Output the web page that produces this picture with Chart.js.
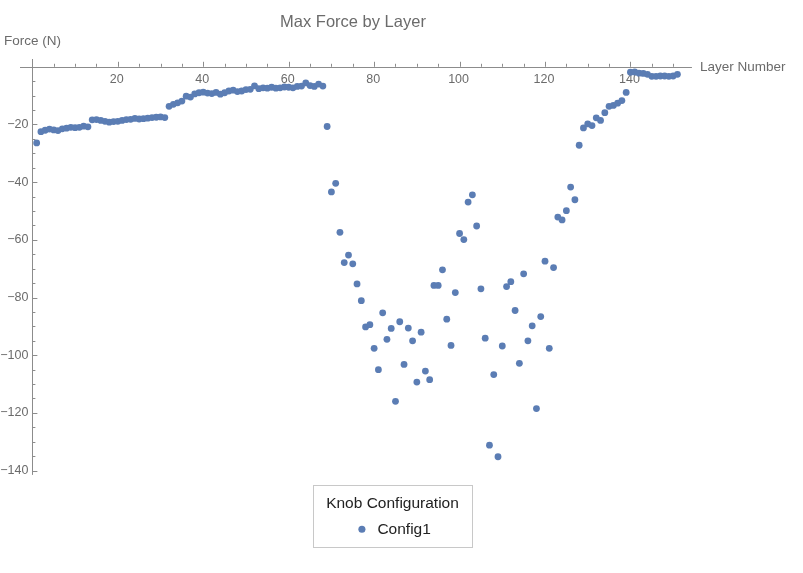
<!DOCTYPE html>
<html>
<head>
<meta charset="utf-8">
<title>Max Force by Layer</title>
<script src="https://cdn.jsdelivr.net/npm/chart.js@4.4.1/dist/chart.umd.min.js"></script>
<style>
  html, body { margin: 0; padding: 0; background: #fff; }
  #wrap { width: 803px; height: 573px; }
</style>
</head>
<body>
<div id="wrap"><canvas id="chart"></canvas></div>
<script>
// max force per layer (N)
const forces = [
    -26.4, -22.5, -22.0, -21.6, -21.9, -22.1, -21.5, -21.3, -21.0, -21.1,
    -21.0, -20.6, -20.8, -18.4, -18.3, -18.6, -18.9, -19.2, -19.0, -18.9,
    -18.6, -18.3, -18.2, -17.9, -18.1, -18.0, -17.8, -17.6, -17.5, -17.4,
    -17.6, -13.7, -13.0, -12.5, -11.9, -10.2, -10.5, -9.4, -9.0, -8.8,
    -9.1, -9.3, -8.9, -9.5, -9.0, -8.4, -8.1, -8.6, -8.4, -7.9,
    -7.8, -6.6, -7.6, -7.3, -7.4, -7.1, -7.4, -7.3, -7.0, -7.1,
    -7.3, -6.8, -6.7, -5.6, -6.5, -6.8, -6.0, -6.7, -20.7, -43.4,
    -40.4, -57.4, -67.9, -65.3, -68.3, -75.3, -81.1, -90.2, -89.4, -97.6,
    -105.0, -85.3, -94.5, -90.7, -116.0, -88.4, -103.2, -90.6, -95.0, -109.3,
    -92.0, -105.5, -108.5, -75.8, -75.8, -70.4, -87.5, -96.6, -78.3, -57.8,
    -59.9, -46.9, -44.4, -55.2, -77.0, -94.1, -131.2, -106.7, -135.2, -96.8,
    -76.2, -74.5, -84.5, -102.8, -71.8, -95.0, -89.8, -118.5, -86.6, -67.4,
    -97.6, -69.6, -52.1, -53.1, -49.9, -41.7, -46.1, -27.2, -21.2, -19.8,
    -20.4, -17.7, -18.6, -15.9, -13.7, -13.4, -12.6, -11.7, -8.9, -1.9,
    -1.8, -2.2, -2.3, -2.6, -3.3, -3.3, -3.2, -3.2, -3.3, -3.2,
    -2.6
];
const layers = forces.map((f, i) => i + 1);   // layer numbers 1..151

const xTickLabels = [20, 40, 60, 80, 100, 120, 140];
const yTickLabels = [-20, -40, -60, -80, -100, -120, -140];

const X_MIN = -2.9, X_MAX = 171.5, X_AXIS_END = 154.4;
const Y_MIN = -141.5, Y_MAX = 2.7;

const pointColor = '#5b7db4';
const axisColor = '#8c8c8c';
const textColor = '#6b6b6b';
const fontFamily = "'Liberation Sans', Arial, sans-serif";

// mathematica style axes: crossing at the origin, ticks pointing inward
const mmaAxes = {
    id: 'mmaAxes',
    beforeDatasetsDraw(chart) {
        const ctx = chart.ctx;
        const xs = chart.scales.x, ys = chart.scales.y;
        const area = chart.chartArea;
        const x0 = xs.getPixelForValue(0);
        const y0 = ys.getPixelForValue(0);
        const xEnd = xs.getPixelForValue(X_AXIS_END);

        ctx.save();
        ctx.strokeStyle = axisColor;
        ctx.lineWidth = 1;
        ctx.beginPath();
        ctx.moveTo(area.left, Math.round(y0) + 0.5);
        ctx.lineTo(xEnd, Math.round(y0) + 0.5);
        ctx.moveTo(Math.round(x0) + 0.5, area.top);
        ctx.lineTo(Math.round(x0) + 0.5, area.bottom);

        // x ticks every 5, longer every 20
        for (let v = 5; v <= 150; v += 5) {
            const px = Math.round(xs.getPixelForValue(v)) + 0.5;
            const len = v % 20 === 0 ? 5 : 3;
            ctx.moveTo(px, y0);
            ctx.lineTo(px, y0 - len);
        }
        // y ticks every 5, longer every 20
        for (let v = -5; v >= -140; v -= 5) {
            const py = Math.round(ys.getPixelForValue(v)) + 0.5;
            const len = v % 20 === 0 ? 5 : 3;
            ctx.moveTo(x0, py);
            ctx.lineTo(x0 + len, py);
        }
        ctx.stroke();

        ctx.fillStyle = textColor;
        ctx.font = '12.5px ' + fontFamily;
        ctx.textAlign = 'center';
        ctx.textBaseline = 'middle';
        xTickLabels.forEach(v => {
            ctx.fillText(String(v), xs.getPixelForValue(v) - 1, y0 + 13);
        });
        ctx.textAlign = 'right';
        yTickLabels.forEach(v => {
            ctx.fillText('\u2212' + Math.abs(v), x0 - 4, ys.getPixelForValue(v));
        });

        // axis labels
        ctx.font = '13.5px ' + fontFamily;
        ctx.textAlign = 'left';
        ctx.fillText('Layer Number', xEnd + 8, y0);
        ctx.fillText('Force (N)', 4, 41);

        // title centred over the plot range
        ctx.font = '16.5px ' + fontFamily;
        ctx.textAlign = 'center';
        ctx.fillText('Max Force by Layer', (area.left + xEnd) / 2 - 3, 22);
        ctx.restore();
    },
    afterDraw(chart) {
        // frame round the legend
        const lg = chart.legend;
        const ctx = chart.ctx;
        ctx.save();
        ctx.font = '15.5px ' + fontFamily;
        const w = ctx.measureText('Knob Configuration').width + 26;
        const cx = (lg.left + lg.right) / 2;
        ctx.strokeStyle = '#c8c8c8';
        ctx.lineWidth = 1;
        ctx.strokeRect(Math.round(cx - w / 2) + 0.5, 485.5, Math.round(w), 62);
        ctx.restore();
    }
};

const ctx = document.getElementById('chart').getContext('2d');
new Chart(ctx, {
    type: 'scatter',
    data: {
        datasets: [{
            label: 'Config1',
            data: layers.map((l, i) => ({x: l, y: forces[i]})),
            backgroundColor: pointColor,
            borderColor: pointColor,
            pointRadius: 3.4,
            pointBorderWidth: 0,
            pointHoverRadius: 3.4
        }]
    },
    options: {
        responsive: true,
        maintainAspectRatio: false,
        animation: false,
        layout: {
            padding: {top: 59, left: 20, right: 38, bottom: 26}
        },
        scales: {
            x: {type: 'linear', min: X_MIN, max: X_MAX, display: false},
            y: {type: 'linear', min: Y_MIN, max: Y_MAX, display: false}
        },
        plugins: {
            legend: {
                position: 'bottom',
                title: {
                    display: true,
                    text: 'Knob Configuration',
                    color: '#222',
                    font: {family: fontFamily, size: 15.5},
                    padding: {top: 21, bottom: 1}
                },
                labels: {
                    usePointStyle: true,
                    boxHeight: 5,
                    color: '#222',
                    padding: 6,
                    font: {family: fontFamily, size: 15.5}
                }
            },
            tooltip: {enabled: false}
        }
    },
    plugins: [mmaAxes]
});
</script>
</body>
</html>
